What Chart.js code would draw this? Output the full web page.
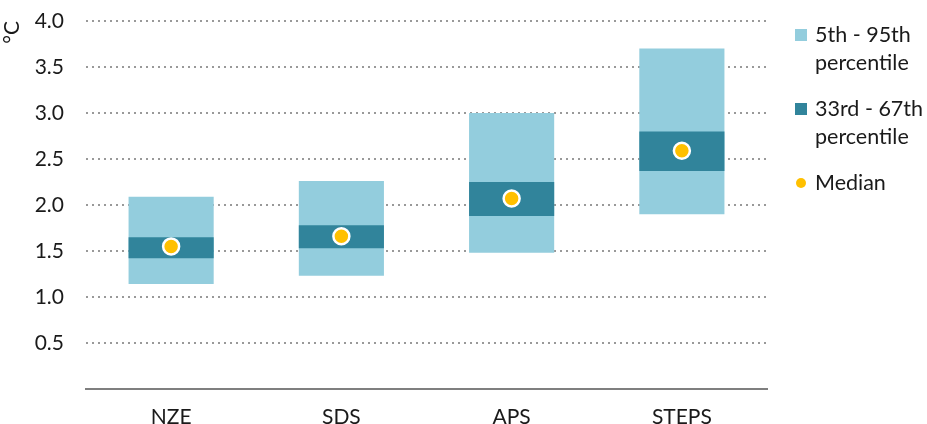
<!DOCTYPE html>
<html>
<head>
<meta charset="utf-8">
<script src="https://cdn.jsdelivr.net/npm/chart.js@4.4.1/dist/chart.umd.min.js"></script>
<style>
    html, body { margin: 0; padding: 0; background: #fff; }
    #wrap { position: relative; width: 927px; height: 424px; }
    #legend { position: absolute; left: 795px; top: 20px; font-family: Lato, sans-serif; font-size: 21.5px; color: #1a1a1a; line-height: 28px; }
    .item { position: relative; padding-left: 20px; margin-bottom: 18px; }
    .sw { position: absolute; left: 0; top: 9px; width: 12px; height: 12px; }
    .dot { position: absolute; left: 1px; top: 10px; width: 10px; height: 10px; border-radius: 50%; }
</style>
</head>
<body>
<div id="wrap">
    <canvas id="grafico" width="927" height="424"></canvas>
    <div id="legend"></div>
</div>
<script>
const cenarios = ['NZE', 'SDS', 'APS', 'STEPS'];
const p5 = [1.14, 1.23, 1.48, 1.90];
const p95 = [2.09, 2.26, 3.00, 3.70];
const p33 = [1.42, 1.53, 1.88, 2.37];
const p67 = [1.65, 1.78, 2.25, 2.80];
const mediana = [1.55, 1.66, 2.07, 2.59];
const rotulosY = [0.5, 1.0, 1.5, 2.0, 2.5, 3.0, 3.5, 4.0];

const corClara = '#93cddd';
const corEscura = '#31849b';
const corMediana = '#ffc000';

document.addEventListener('DOMContentLoaded', function() {
    const ctx = document.getElementById('grafico').getContext('2d');
    const fonte = { family: 'Lato, sans-serif', size: 21 };

    new Chart(ctx, {
        type: 'bar',
        data: {
            labels: cenarios,
            datasets: [
                {
                    type: 'line',
                    label: 'Median',
                    data: mediana,
                    showLine: false,
                    pointRadius: 8,
                    pointBorderWidth: 2.5,
                    pointBackgroundColor: corMediana,
                    pointBorderColor: '#ffffff',
                    order: 0
                },
                {
                    label: '33rd - 67th percentile',
                    data: cenarios.map((c, i) => [p33[i], p67[i]]),
                    backgroundColor: corEscura,
                    grouped: false,
                    barPercentage: 0.5,
                    categoryPercentage: 1,
                    order: 1
                },
                {
                    label: '5th - 95th percentile',
                    data: cenarios.map((c, i) => [p5[i], p95[i]]),
                    backgroundColor: corClara,
                    grouped: false,
                    barPercentage: 0.5,
                    categoryPercentage: 1,
                    order: 2
                }
            ]
        },
        options: {
            responsive: false,
            animation: false,
            layout: { padding: { top: 21, right: 160, bottom: 0, left: 0 } },
            plugins: {
                legend: { display: false },
                tooltip: { enabled: false }
            },
            scales: {
                x: {
                    grid: { display: false },
                    border: { display: true, color: '#7f7f7f', width: 2 },
                    ticks: { color: '#1a1a1a', font: fonte, padding: 8 },
                    afterFit: function(scale) { scale.height = 35; }
                },
                y: {
                    min: 0,
                    max: 4,
                    afterBuildTicks: function(scale) {
                        scale.ticks = [0].concat(rotulosY).map(v => ({ value: v }));
                    },
                    grid: {
                        drawTicks: false,
                        color: c => c.tick.value === 0 ? 'rgba(0,0,0,0)' : '#999999',
                        lineWidth: 2
                    },
                    border: { display: false, dash: [2, 4] },
                    ticks: {
                        color: '#1a1a1a',
                        font: fonte,
                        padding: 22,
                        callback: v => v === 0 ? '' : v.toFixed(1)
                    },
                    title: {
                        display: true,
                        text: '°C',
                        align: 'end',
                        color: '#1a1a1a',
                        font: fonte,
                        padding: 0
                    },
                    afterFit: function(scale) {
                        scale.width = 86;
                        scale.paddingTop = 0;
                        scale.paddingBottom = 0;
                    }
                }
            }
        }
    });

    const itens = [
        { texto: ['5th - 95th', 'percentile'], cor: corClara, tipo: 'sw' },
        { texto: ['33rd - 67th', 'percentile'], cor: corEscura, tipo: 'sw' },
        { texto: ['Median'], cor: corMediana, tipo: 'dot' }
    ];
    const legendaElem = document.getElementById('legend');
    itens.forEach(item => {
        const div = document.createElement('div');
        div.className = 'item';
        const marca = document.createElement('span');
        marca.className = item.tipo;
        marca.style.background = item.cor;
        div.appendChild(marca);
        div.appendChild(document.createTextNode(item.texto[0]));
        for (let i = 1; i < item.texto.length; i++) {
            div.appendChild(document.createElement('br'));
            div.appendChild(document.createTextNode(item.texto[i]));
        }
        legendaElem.appendChild(div);
    });
});
</script>
</body>
</html>
